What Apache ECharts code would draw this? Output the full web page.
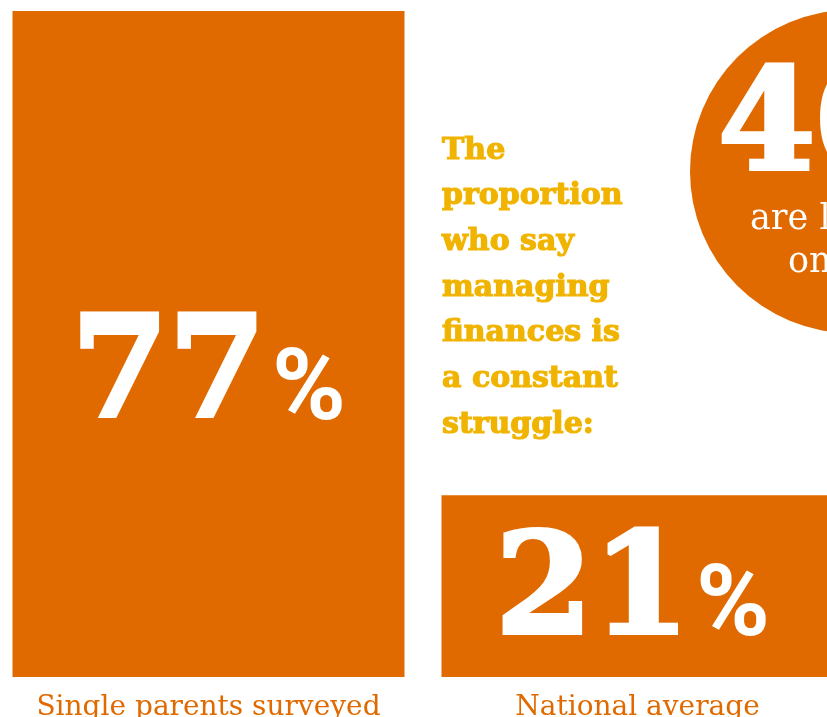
<!DOCTYPE html>
<html>
<head>
<meta charset="utf-8">
<title>Managing finances</title>
<script src="https://cdn.jsdelivr.net/npm/echarts@6/dist/echarts.min.js"></script>
<style>
  html, body { margin: 0; padding: 0; background: #ffffff; }
  #chart { width: 827px; height: 717px; }
</style>
</head>
<body>
<div id="chart"></div>
<script>
// Share of people who say managing finances is a constant struggle
const categories = ['Single parents surveyed', 'National average'];
const shares = [77, 21];

// Highlighted statistic in the circle
const circleValue = 40;
const circleLines = ['are living', 'on less'];

// Headline text, one entry per line
const headline = [
  'The',
  'proportion',
  'who say',
  'managing',
  'finances is',
  'a constant',
  'struggle:'
];

const ORANGE = '#E06A00';
const YELLOW = '#F0B400';
const SLAB = '"DejaVu Serif", "Liberation Serif", serif';
const PCT = 'Roboto, "Liberation Sans", sans-serif';

// Nudge of the value label inside each bar
const labelOffsets = [[0, 36], [-5, 10]];

// Big figures: heavy slab digits with a narrower percent sign
const numStyle = { fontFamily: SLAB, fontWeight: 'bold', fontSize: 140, verticalAlign: 'bottom', textBorderWidth: 4 };
const pctStyle = { fontFamily: PCT, fontWeight: 'bold', fontSize: 100, verticalAlign: 'bottom', padding: [0, 0, 6, 6] };

const chart = echarts.init(document.getElementById('chart'), null, { renderer: 'canvas' });

chart.setOption({
  backgroundColor: '#ffffff',
  animation: false,
  title: {
    text: headline.join('\n'),
    left: 442,
    top: 128,
    padding: 0,
    textStyle: {
      fontFamily: SLAB,
      fontWeight: 'bold',
      fontSize: 30,
      lineHeight: 45.7,
      color: YELLOW,
      textBorderColor: YELLOW,
      textBorderWidth: 1.2
    }
  },
  grid: { left: -6, width: 858, top: 11, bottom: 40, containLabel: false, outerBoundsMode: 'none' },
  xAxis: {
    type: 'category',
    data: categories,
    axisLine: { show: false },
    axisTick: { show: false },
    axisLabel: {
      margin: 17,
      fontFamily: SLAB,
      fontSize: 28,
      color: ORANGE,
      interval: 0
    }
  },
  yAxis: {
    type: 'value',
    min: 0,
    max: 77,
    show: false,
    splitLine: { show: false }
  },
  series: [{
    type: 'bar',
    barWidth: 392,
    itemStyle: { color: ORANGE },
    data: shares.map((v, i) => ({ value: v, label: { offset: labelOffsets[i] } })),
    label: {
      show: true,
      position: 'inside',
      formatter: p => `{n|${p.value}}{p|%}`,
      rich: {
        n: Object.assign({ color: '#ffffff', textBorderColor: '#ffffff' }, numStyle),
        p: Object.assign({ color: '#ffffff' }, pctStyle)
      }
    }
  }],
  graphic: [
    {
      type: 'circle',
      shape: { cx: 851.5, cy: 171.5, r: 161.5 },
      style: { fill: ORANGE },
      z: 1
    },
    {
      type: 'text',
      x: 718,
      y: 63,
      z: 2,
      style: {
        text: `{n|${circleValue}}{p|%}`,
        rich: {
          n: Object.assign({ fill: '#ffffff', stroke: '#ffffff', lineWidth: 4 }, numStyle),
          p: Object.assign({ fill: '#ffffff' }, pctStyle)
        },
        align: 'left'
      }
    },
    {
      type: 'text',
      x: 750,
      y: 202,
      z: 2,
      style: {
        text: circleLines[0],
        font: `35px ${SLAB}`,
        fill: '#ffffff'
      }
    },
    {
      type: 'text',
      x: 788,
      y: 245,
      z: 2,
      style: {
        text: circleLines[1],
        font: `35px ${SLAB}`,
        fill: '#ffffff'
      }
    }
  ]
});
</script>
</body>
</html>
